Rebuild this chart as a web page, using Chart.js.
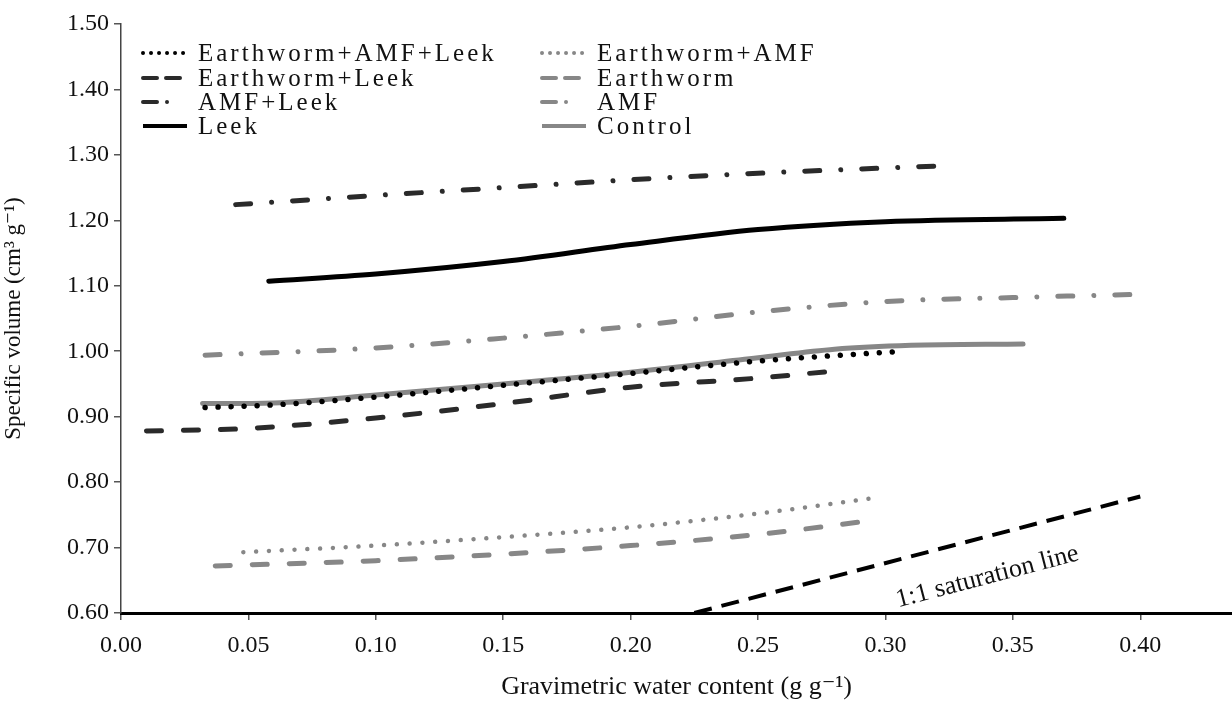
<!DOCTYPE html>
<html>
<head>
<meta charset="utf-8">
<script src="https://cdn.jsdelivr.net/npm/chart.js@4/dist/chart.umd.min.js"></script>
<style>
  html, body { margin: 0; padding: 0; background: #fff; }
  #wrap { width: 1232px; height: 707px; }
</style>
</head>
<body>
<div id="wrap"><canvas id="chart"></canvas></div>
<script>
// gravimetric water content (x) and specific volume (y) per treatment
const wEAL = [0.033, 0.06, 0.10, 0.15, 0.20, 0.25, 0.307];
const vEAL = [0.914, 0.918, 0.930, 0.948, 0.966, 0.985, 1.000];
const wEA = [0.048, 0.10, 0.15, 0.20, 0.25, 0.298];
const vEA = [0.693, 0.703, 0.716, 0.731, 0.752, 0.777];
const wEL = [0.010, 0.05, 0.10, 0.15, 0.20, 0.25, 0.278];
const vEL = [0.878, 0.882, 0.898, 0.920, 0.945, 0.959, 0.969];
const wEw = [0.037, 0.10, 0.15, 0.20, 0.25, 0.292];
const vEw = [0.672, 0.680, 0.690, 0.703, 0.720, 0.740];
const wAL = [0.045, 0.10, 0.15, 0.20, 0.25, 0.30, 0.327];
const vAL = [1.224, 1.238, 1.250, 1.262, 1.272, 1.280, 1.284];
const wAMF = [0.033, 0.10, 0.15, 0.20, 0.25, 0.30, 0.35, 0.40];
const vAMF = [0.994, 1.005, 1.020, 1.038, 1.060, 1.076, 1.082, 1.087];
const wLeek = [0.058, 0.10, 0.15, 0.20, 0.25, 0.30, 0.37];
const vLeek = [1.107, 1.118, 1.137, 1.163, 1.186, 1.198, 1.203];
const wCtl = [0.032, 0.06, 0.10, 0.15, 0.20, 0.25, 0.28, 0.31, 0.354];
const vCtl = [0.920, 0.921, 0.933, 0.950, 0.968, 0.990, 1.003, 1.009, 1.011];
const wSat = [0.225, 0.40];
const vSat = [0.60, 0.778];

const labels = ["Earthworm+AMF+Leek", "Earthworm+AMF", "Earthworm+Leek", "Earthworm",
  "AMF+Leek", "AMF", "Leek", "Control"];
const satLabel = "1:1 saturation line";
const yTicks = [0.6, 0.7, 0.8, 0.9, 1.0, 1.1, 1.2, 1.3, 1.4, 1.5];

const BLACK = "#000", DARK = "#2a2a2a", GRAY = "#878787";
const SERIF = "'Liberation Serif', 'DejaVu Serif', serif";

const pts = (xs, ys) => xs.map((x, i) => ({ x: x, y: ys[i] }));

function line(label, xs, ys, color, width, dash) {
  return {
    label: label,
    data: pts(xs, ys),
    showLine: true,
    borderColor: color,
    backgroundColor: color,
    borderWidth: width,
    borderDash: dash,
    borderCapStyle: "round",
    borderJoinStyle: "round",
    pointRadius: 0,
    tension: 0.4,
    cubicInterpolationMode: "monotone",
    fill: false
  };
}

const datasets = [
  line(labels[0], wEAL, vEAL, BLACK, 5.5, [0.01, 13]),
  line(labels[1], wEA, vEA, GRAY, 4.5, [0.01, 12.8]),
  line(labels[2], wEL, vEL, DARK, 5, [15, 22]),
  line(labels[3], wEw, vEw, GRAY, 5, [15, 22]),
  line(labels[4], wAL, vAL, DARK, 5, [15, 21, 0.01, 21]),
  line(labels[5], wAMF, vAMF, GRAY, 5, [15, 21, 0.01, 21]),
  line(labels[6], wLeek, vLeek, BLACK, 5, []),
  line(labels[7], wCtl, vCtl, GRAY, 5, []),
  Object.assign(line(satLabel, wSat, vSat, BLACK, 4, [18, 10]), { borderCapStyle: "butt", tension: 0 })
];

// legend: two columns, four rows, drawn inside the plot
const legendPlugin = {
  id: "boxLegend",
  afterDraw(chart) {
    const ctx = chart.ctx;
    const colX = [141, 540];
    const rowY = [53, 78, 102, 126];
    for (let i = 0; i < 8; i++) {
      const ds = chart.data.datasets[i];
      const cx = colX[i % 2], cy = rowY[Math.floor(i / 2)];
      ctx.save();
      ctx.strokeStyle = ds.borderColor;
      ctx.lineWidth = 4;
      ctx.lineCap = ds.borderDash.length ? "round" : "butt";
      let dash = ds.borderDash;
      if (dash.length === 2 && dash[0] < 1) dash = [0.01, 8];
      else if (dash.length === 2) dash = [14, 9];
      else if (dash.length === 4) dash = [14, 10, 0.01, 30];
      ctx.setLineDash(dash);
      ctx.beginPath();
      ctx.moveTo(cx + 2, cy);
      ctx.lineTo(cx + 46, cy);
      ctx.stroke();
      ctx.setLineDash([]);
      ctx.fillStyle = "#111";
      ctx.font = "25px " + SERIF;
      ctx.letterSpacing = "3px";
      ctx.textBaseline = "middle";
      ctx.fillText(ds.label, cx + 57, cy + 1);
      ctx.restore();
    }
    // label of the saturation line
    const xs = chart.scales.x, ys = chart.scales.y;
    const x1 = xs.getPixelForValue(wSat[0]), y1 = ys.getPixelForValue(vSat[0]);
    const x2 = xs.getPixelForValue(wSat[1]), y2 = ys.getPixelForValue(vSat[1]);
    const ang = Math.atan2(y2 - y1, x2 - x1);
    ctx.save();
    ctx.translate(xs.getPixelForValue(0.34), ys.getPixelForValue(0.655));
    ctx.rotate(ang);
    ctx.fillStyle = "#111";
    ctx.font = "26px " + SERIF;
    ctx.textAlign = "center";
    ctx.textBaseline = "middle";
    ctx.fillText(satLabel, 0, 0);
    ctx.restore();
  }
};

new Chart(document.getElementById("chart"), {
  type: "scatter",
  data: { datasets: datasets },
  options: {
    responsive: true,
    maintainAspectRatio: false,
    animation: false,
    layout: { padding: { top: 24, right: 0, left: 0, bottom: 0 } },
    plugins: { legend: { display: false }, tooltip: { enabled: false } },
    scales: {
      x: {
        type: "linear",
        min: 0,
        max: 0.436,
        afterFit: s => { s.height = 94; },
        ticks: {
          stepSize: 0.05,
          includeBounds: false,
          autoSkip: false,
          maxRotation: 0,
          color: "#111",
          padding: 11,
          font: { family: SERIF, size: 24 },
          callback: v => Math.abs(v / 0.05 - Math.round(v / 0.05)) < 1e-6 ? v.toFixed(2) : ""
        },
        grid: { drawOnChartArea: false, drawTicks: true, tickLength: 7, color: "#555", lineWidth: 1.5 },
        border: { color: "#000", width: 3 },
        title: {
          display: true,
          text: "Gravimetric water content (g g\u207B\u00B9)",
          color: "#111",
          font: { family: SERIF, size: 26 },
          padding: { top: 0, bottom: 4 }
        }
      },
      y: {
        type: "linear",
        min: 0.6,
        max: 1.5,
        afterFit: s => { s.width = 121; },
        afterBuildTicks: s => { s.ticks = yTicks.map(v => ({ value: v })); },
        ticks: {
          color: "#111",
          padding: 5,
          font: { family: SERIF, size: 24 },
          callback: v => v.toFixed(2)
        },
        grid: { drawOnChartArea: false, drawTicks: true, tickLength: 7, color: "#555", lineWidth: 1.5 },
        border: { color: "#444", width: 1.5 },
        title: {
          display: true,
          text: "Specific volume (cm\u00B3 g\u207B\u00B9)",
          color: "#111",
          font: { family: SERIF, size: 23 },
          padding: { top: 0, bottom: 8 }
        }
      }
    }
  },
  plugins: [legendPlugin]
});
</script>
</body>
</html>
